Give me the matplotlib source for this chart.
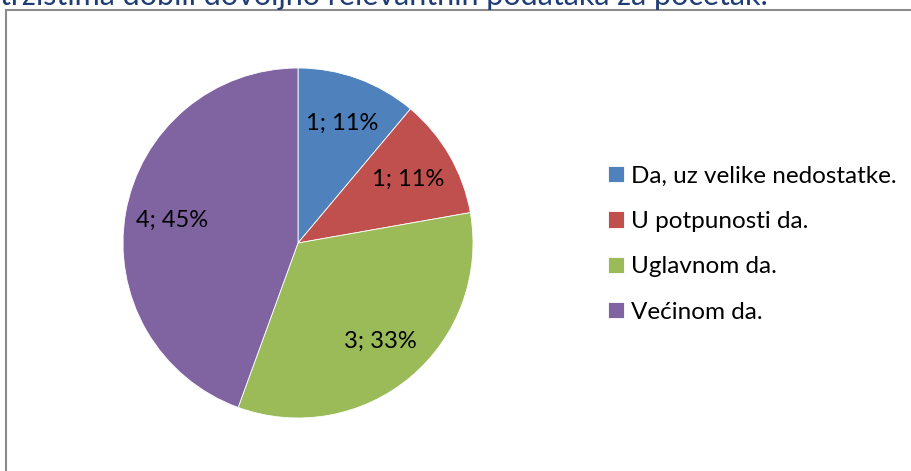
import matplotlib
matplotlib.use("Agg")
import matplotlib.pyplot as plt
from matplotlib.patches import Rectangle
import numpy as np

plt.rcParams["font.family"] = ["Lato", "DejaVu Sans"]

categories = ["Da, uz velike nedostatke.", "U potpunosti da.", "Uglavnom da.", "Većinom da."]
values = [1, 1, 3, 4]
pct_labels = ["11%", "11%", "33%", "45%"]
colors = ["#4F81BD", "#C0504D", "#9BBB59", "#8064A2"]
title = "tržištima dobili dovoljno relevantnih podataka za početak."

W, H = 911, 471
fig = plt.figure(figsize=(W / 100, H / 100), dpi=100)

# chart frame (cut off at right/bottom like the source screenshot)
fig.patches.append(Rectangle((6 / W, -0.05), 1.0, (H - 10) / H + 0.05,
                             transform=fig.transFigure, fill=False,
                             edgecolor="#8c8c8c", linewidth=1.5))

# title, mostly cropped at the top edge
fig.text(0.0, 1 - 5 / H, title, color="#1F3C74", fontsize=22, va="baseline", ha="left")

ax = fig.add_axes([(298 - 175) / W, (H - 418) / H, 350 / W, 350 / H])
wedges, _ = ax.pie(values, colors=colors, startangle=90, counterclock=False,
                   radius=1, wedgeprops=dict(edgecolor="white", linewidth=0.6))
ax.set_xlim(-1, 1)
ax.set_ylim(-1, 1)
ax.set_aspect("equal")
ax.axis("off")

for w, v, p in zip(wedges, values, pct_labels):
    ang = np.deg2rad((w.theta1 + w.theta2) / 2)
    ax.text(0.73 * np.cos(ang), 0.73 * np.sin(ang), f"{v}; {p}",
            ha="center", va="center", fontsize=17, color="black")

fig.legend(wedges, categories, loc="upper left", bbox_to_anchor=(598 / W, 1 - 156 / H),
           frameon=False, fontsize=17.5, handlelength=0.65, handleheight=0.65,
           handletextpad=0.3, labelspacing=1.0, borderaxespad=0)

fig.savefig("out.png", dpi=100)
